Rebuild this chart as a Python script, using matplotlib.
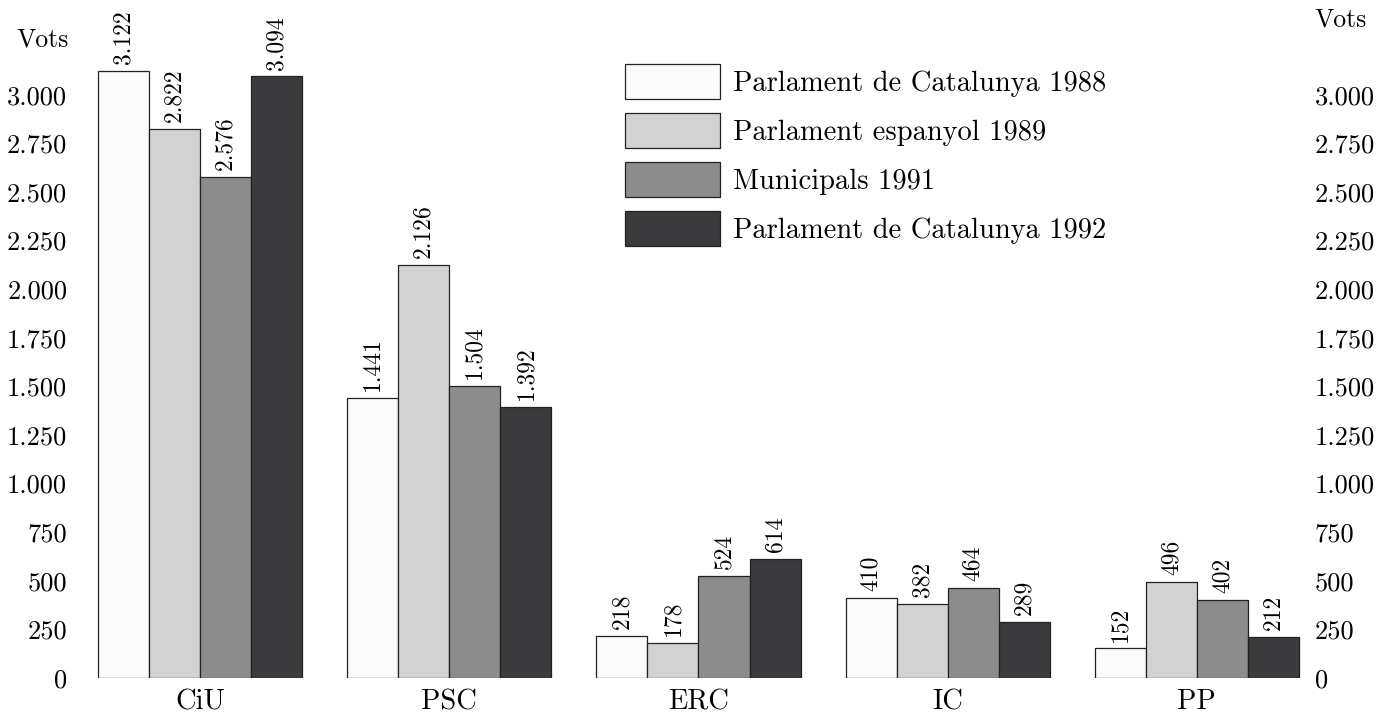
import matplotlib
matplotlib.use("Agg")
import matplotlib.pyplot as plt
import numpy as np

# data (thousands of votes)
parties = ["CiU", "PSC", "ERC", "IC", "PP"]
elections = ["Parlament de Catalunya 1988", "Parlament espanyol 1989",
             "Municipals 1991", "Parlament de Catalunya 1992"]
v1988 = [3122, 1441, 218, 410, 152]
v1989 = [2822, 2126, 178, 382, 496]
v1991 = [2576, 1504, 524, 464, 402]
v1992 = [3094, 1392, 614, 289, 212]
yticks = list(range(0, 3001, 250))

colors = ["#fbfbfb", "#d2d2d2", "#8c8c8c", "#3b3b3e"]
fam = ["cmr10", "DejaVu Serif"]
plt.rcParams["font.family"] = fam
plt.rcParams["axes.formatter.use_mathtext"] = True


def fmt(v):
    return f"{v / 1000:.3f}" if v >= 1000 else str(v)


W, H = 1382, 713
fig = plt.figure(figsize=(W / 100, H / 100), dpi=100)
ax = fig.add_axes([88 / W, 35 / H, 1221 / W, 661 / H])

x = np.arange(len(parties))
bw = 0.205
series = [v1988, v1989, v1991, v1992]
for i, vals in enumerate(series):
    pos = x + (i - 1.5) * bw
    bars = ax.bar(pos, vals, bw, color=colors[i], edgecolor="#222222",
                  linewidth=0.9, label=elections[i])
    for b, v in zip(bars, vals):
        ax.annotate(fmt(v), (b.get_x() + b.get_width() / 2, v),
                    xytext=(0, 5), textcoords="offset points",
                    rotation=90, ha="center", va="bottom", fontsize=17)

ax.set_xlim(-0.45, 4.45)
ax.set_ylim(0, 3400)
ax.set_yticks(yticks, [fmt(t) for t in yticks])
ax.tick_params(axis="y", length=0, labelsize=19, pad=15)
ax.set_xticks(x, parties)
ax.tick_params(axis="x", length=0, labelsize=20.5, pad=8)
for s in ax.spines.values():
    s.set_visible(False)

# right-hand scale
ax2 = ax.twinx()
ax2.set_ylim(ax.get_ylim())
ax2.set_yticks(yticks, [fmt(t) for t in yticks])
ax2.tick_params(axis="y", length=0, labelsize=19, pad=4)
for s in ax2.spines.values():
    s.set_visible(False)

fig.text(43 / W, 1 - 40 / H, "Vots", ha="center", va="center", fontsize=18.5)
fig.text(1341 / W, 1 - 20 / H, "Vots", ha="center", va="center", fontsize=18.5)

ax.legend(loc="upper left", bbox_to_anchor=(625 / W, 1 - 64 / H),
          bbox_transform=fig.transFigure, frameon=False, fontsize=20.5,
          handlelength=3.35, handleheight=1.54, labelspacing=0.47,
          handletextpad=0.45, borderpad=0, borderaxespad=0)

fig.savefig("out.png", dpi=100)
